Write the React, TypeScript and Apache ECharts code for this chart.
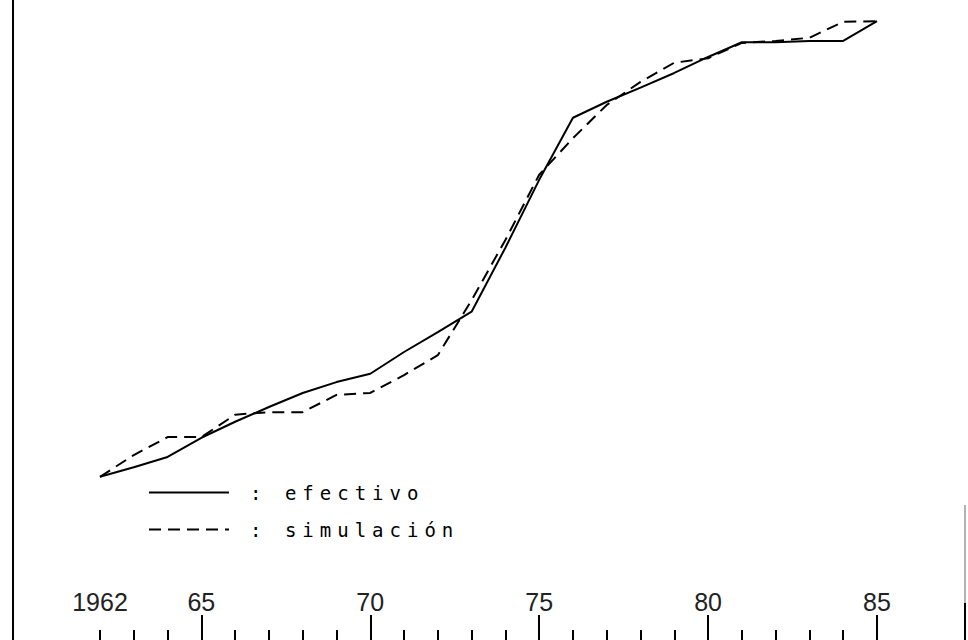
import React, { useEffect, useRef } from "react";
import * as echarts from "echarts";

const years: string[] = [
  "1962", "1963", "1964", "1965", "1966", "1967", "1968", "1969", "1970", "1971", "1972", "1973",
  "1974", "1975", "1976", "1977", "1978", "1979", "1980", "1981", "1982", "1983", "1984", "1985",
];

const efectivo: number[] = [
  25.5, 27.0, 28.6, 31.6, 34.1, 36.4, 38.6, 40.3, 41.6, 45.0, 48.1, 51.3,
  61.3, 71.9, 81.6, 84.1, 86.3, 88.6, 91.1, 93.4, 93.4, 93.6, 93.6, 96.7,
];

const simulacion: number[] = [
  25.5, 28.9, 31.7, 31.7, 35.2, 35.6, 35.6, 38.3, 38.6, 41.4, 44.5, 53.1,
  62.5, 72.7, 78.4, 83.6, 87.2, 90.2, 90.9, 93.3, 93.6, 94.1, 96.6, 96.7,
];

const labelledYears: string[] = ["1962", "1965", "1970", "1975", "1980", "1985"];
const majorTickYears: string[] = ["1965", "1970", "1975", "1980", "1985"];

const seriesNames = { solid: ": efectivo", dashed: ": simulación" };

export default function App() {
  const ref = useRef<HTMLDivElement>(null);

  useEffect(() => {
    if (!ref.current) return;
    const chart = echarts.init(ref.current, null, { renderer: "svg" });
    const option: any = {
      animation: false,
      backgroundColor: "#ffffff",
      grid: { left: 100, right: 91, top: 0, bottom: 0 },
      legend: {
        orient: "vertical",
        left: 143,
        top: 478,
        itemWidth: 80,
        itemHeight: 20,
        itemGap: 18,
        data: [seriesNames.solid, seriesNames.dashed],
        itemStyle: { opacity: 0, borderWidth: 0 },
        textStyle: {
          fontFamily: "DejaVu Sans Mono",
          fontSize: 19,
          color: "#000",
          padding: [0, 0, 0, 16],
        },
      },
      xAxis: [
        {
          type: "category",
          data: years,
          boundaryGap: false,
          position: "bottom",
          axisLine: { show: false },
          axisTick: {
            show: true,
            inside: true,
            interval: 0,
            length: 10,
            lineStyle: { color: "#000", width: 2 },
          },
          axisLabel: {
            show: true,
            inside: true,
            margin: 26,
            interval: (_i: number, v: string) => labelledYears.indexOf(v) >= 0,
            formatter: (v: string) => (v === "1962" ? v : v.slice(2)),
            fontFamily: "Liberation Sans",
            fontSize: 25,
            color: "#222",
          },
          splitLine: { show: false },
        },
        {
          type: "category",
          data: years,
          boundaryGap: false,
          position: "bottom",
          axisLine: { show: false },
          axisTick: {
            show: true,
            inside: true,
            interval: (_i: number, v: string) => majorTickYears.indexOf(v) >= 0,
            length: 25,
            lineStyle: { color: "#000", width: 2 },
          },
          axisLabel: { show: false },
          splitLine: { show: false },
        },
      ],
      yAxis: {
        type: "value",
        min: 0,
        max: 100,
        offset: 87,
        axisLine: { show: true, lineStyle: { color: "#000", width: 2 } },
        axisTick: { show: false },
        axisLabel: { show: false },
        splitLine: { show: false },
      },
      graphic: [
        {
          type: "line",
          shape: { x1: 965, y1: 505, x2: 965, y2: 603 },
          style: { stroke: "#999", lineWidth: 1.5 },
        },
        {
          type: "line",
          shape: { x1: 965, y1: 603, x2: 965, y2: 640 },
          style: { stroke: "#000", lineWidth: 2 },
        },
      ],
      series: [
        {
          name: seriesNames.solid,
          type: "line",
          data: efectivo,
          symbol: "none",
          lineStyle: { color: "#000", width: 2, type: "solid" },
          itemStyle: { color: "#000" },
        },
        {
          name: seriesNames.dashed,
          type: "line",
          data: simulacion,
          symbol: "none",
          lineStyle: { color: "#000", width: 2, type: [12, 7] },
          itemStyle: { color: "#000" },
        },
      ],
    };
    chart.setOption(option);
    return () => chart.dispose();
  }, []);

  return (
    <>
      <style>{`#chart text[style*="Mono"]{letter-spacing:6px}`}</style>
      <div
        id="chart"
        ref={ref}
        style={{ position: "fixed", left: 0, top: 0, width: 968, height: 640, background: "#fff" }}
      />
    </>
  );
}
